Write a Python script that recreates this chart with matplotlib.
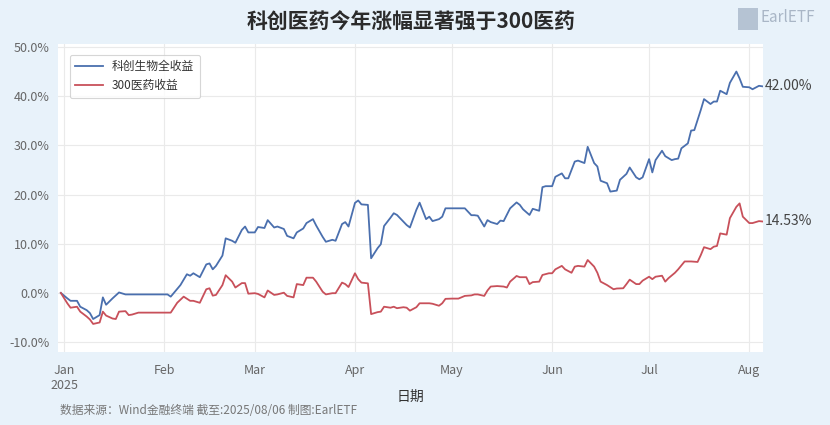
import matplotlib
matplotlib.use("Agg")
import matplotlib.pyplot as plt
import pandas as pd

plt.rcParams['font.family'] = ['Noto Sans CJK SC', 'DejaVu Sans']
plt.rcParams['axes.unicode_minus'] = False

title = "科创医药今年涨幅显著强于300医药"
name_kc = "科创生物全收益"
name_300 = "300医药收益"
footer = "数据来源：Wind金融终端 截至:2025/08/06 制图:EarlETF"

# 科创生物全收益 (%)
dates_kc = [
    "2024-12-31", "2025-01-02", "2025-01-03", "2025-01-05", "2025-01-06", "2025-01-08",
    "2025-01-09", "2025-01-10", "2025-01-12", "2025-01-13", "2025-01-14", "2025-01-16",
    "2025-01-18", "2025-01-20", "2025-02-02", "2025-02-03", "2025-02-06", "2025-02-08",
    "2025-02-09", "2025-02-10", "2025-02-12", "2025-02-14", "2025-02-15", "2025-02-16",
    "2025-02-17", "2025-02-19", "2025-02-20", "2025-02-22", "2025-02-23", "2025-02-25",
    "2025-02-26", "2025-02-27", "2025-03-01", "2025-03-02", "2025-03-04", "2025-03-05",
    "2025-03-07", "2025-03-08", "2025-03-10", "2025-03-11", "2025-03-13", "2025-03-14",
    "2025-03-16", "2025-03-17", "2025-03-19", "2025-03-20", "2025-03-22", "2025-03-23",
    "2025-03-25", "2025-03-26", "2025-03-28", "2025-03-29", "2025-03-30", "2025-04-01",
    "2025-04-02", "2025-04-03", "2025-04-05", "2025-04-06", "2025-04-08", "2025-04-09",
    "2025-04-10", "2025-04-12", "2025-04-13", "2025-04-14", "2025-04-16", "2025-04-17",
    "2025-04-18", "2025-04-20", "2025-04-21", "2025-04-23", "2025-04-24", "2025-04-25",
    "2025-04-27", "2025-04-28", "2025-04-29", "2025-05-05", "2025-05-07", "2025-05-08",
    "2025-05-09", "2025-05-11", "2025-05-12", "2025-05-13", "2025-05-15", "2025-05-16",
    "2025-05-17", "2025-05-19", "2025-05-21", "2025-05-22", "2025-05-23", "2025-05-25",
    "2025-05-26", "2025-05-28", "2025-05-29", "2025-05-30", "2025-06-01", "2025-06-02",
    "2025-06-04", "2025-06-05", "2025-06-06", "2025-06-08", "2025-06-09", "2025-06-11",
    "2025-06-12", "2025-06-14", "2025-06-15", "2025-06-16", "2025-06-18", "2025-06-19",
    "2025-06-21", "2025-06-22", "2025-06-24", "2025-06-25", "2025-06-27", "2025-06-28",
    "2025-06-29", "2025-07-01", "2025-07-02", "2025-07-03", "2025-07-05", "2025-07-06",
    "2025-07-08", "2025-07-09", "2025-07-10", "2025-07-11", "2025-07-13", "2025-07-14",
    "2025-07-15", "2025-07-17", "2025-07-18", "2025-07-20", "2025-07-21", "2025-07-22",
    "2025-07-23", "2025-07-25", "2025-07-26", "2025-07-28", "2025-07-29", "2025-07-30",
    "2025-08-01", "2025-08-02", "2025-08-04", "2025-08-05",
]
vals_kc = [
    0.0, -1.1, -1.6, -1.6, -2.8, -3.5,
    -4.1, -5.3, -4.5, -0.9, -2.4, -1.1,
    0.1, -0.3, -0.3, -0.75, 1.6, 3.8,
    3.5, 4.0, 3.2, 5.8, 6.0, 4.8,
    5.5, 7.6, 11.1, 10.6, 10.2, 12.8,
    13.5, 12.3, 12.3, 13.4, 13.2, 14.8,
    13.3, 13.5, 13.0, 11.6, 11.1, 12.3,
    13.1, 14.2, 15.0, 13.7, 11.4, 10.4,
    10.8, 10.6, 14.0, 14.4, 13.5, 18.3,
    18.8, 18.0, 17.9, 7.05, 9.1, 9.9,
    13.6, 15.3, 16.2, 15.85, 14.5, 13.8,
    13.3, 16.9, 18.35, 15.0, 15.5, 14.6,
    15.0, 15.5, 17.2, 17.2, 15.8, 15.8,
    15.7, 13.5, 14.8, 14.4, 14.0, 14.7,
    14.6, 17.2, 18.4, 17.9, 17.0, 15.85,
    17.1, 16.7, 21.5, 21.7, 21.7, 23.6,
    24.3, 23.3, 23.3, 26.7, 26.9, 26.4,
    29.7, 26.4, 25.7, 22.8, 22.3, 20.6,
    20.8, 23.0, 24.2, 25.5, 23.5, 23.1,
    23.5, 27.2, 24.5, 27.0, 28.9, 27.8,
    27.0, 27.2, 27.3, 29.4, 30.4, 33.0,
    33.1, 37.2, 39.4, 38.4, 38.9, 38.9,
    41.1, 40.4, 42.7, 45.0, 43.6, 41.9,
    41.8, 41.4, 42.1, 42.0,
]

# 300医药收益 (%)
dates_300 = [
    "2024-12-31", "2025-01-02", "2025-01-03", "2025-01-05", "2025-01-06", "2025-01-08",
    "2025-01-09", "2025-01-10", "2025-01-12", "2025-01-13", "2025-01-14", "2025-01-16",
    "2025-01-17", "2025-01-18", "2025-01-20", "2025-01-21", "2025-01-22", "2025-01-24",
    "2025-02-03", "2025-02-05", "2025-02-07", "2025-02-09", "2025-02-10", "2025-02-12",
    "2025-02-14", "2025-02-15", "2025-02-16", "2025-02-17", "2025-02-19", "2025-02-20",
    "2025-02-22", "2025-02-23", "2025-02-25", "2025-02-26", "2025-02-27", "2025-03-01",
    "2025-03-02", "2025-03-04", "2025-03-05", "2025-03-07", "2025-03-08", "2025-03-10",
    "2025-03-11", "2025-03-13", "2025-03-14", "2025-03-16", "2025-03-17", "2025-03-19",
    "2025-03-20", "2025-03-22", "2025-03-23", "2025-03-25", "2025-03-26", "2025-03-28",
    "2025-03-29", "2025-03-30", "2025-04-01", "2025-04-02", "2025-04-03", "2025-04-05",
    "2025-04-06", "2025-04-08", "2025-04-09", "2025-04-10", "2025-04-12", "2025-04-13",
    "2025-04-14", "2025-04-16", "2025-04-17", "2025-04-18", "2025-04-20", "2025-04-21",
    "2025-04-23", "2025-04-24", "2025-04-25", "2025-04-27", "2025-04-28", "2025-04-29",
    "2025-05-01", "2025-05-03", "2025-05-05", "2025-05-07", "2025-05-08", "2025-05-09",
    "2025-05-11", "2025-05-12", "2025-05-13", "2025-05-15", "2025-05-17", "2025-05-18",
    "2025-05-19", "2025-05-21", "2025-05-22", "2025-05-24", "2025-05-25", "2025-05-26",
    "2025-05-28", "2025-05-29", "2025-05-31", "2025-06-01", "2025-06-02", "2025-06-04",
    "2025-06-05", "2025-06-07", "2025-06-08", "2025-06-09", "2025-06-11", "2025-06-12",
    "2025-06-14", "2025-06-15", "2025-06-16", "2025-06-18", "2025-06-20", "2025-06-21",
    "2025-06-23", "2025-06-24", "2025-06-25", "2025-06-27", "2025-06-28", "2025-06-29",
    "2025-07-01", "2025-07-02", "2025-07-03", "2025-07-05", "2025-07-06", "2025-07-07",
    "2025-07-09", "2025-07-10", "2025-07-12", "2025-07-13", "2025-07-14", "2025-07-16",
    "2025-07-17", "2025-07-18", "2025-07-20", "2025-07-21", "2025-07-22", "2025-07-23",
    "2025-07-25", "2025-07-26", "2025-07-28", "2025-07-29", "2025-07-30", "2025-08-01",
    "2025-08-02", "2025-08-04", "2025-08-05",
]
vals_300 = [
    0.0, -2.1, -3.0, -2.8, -3.8, -4.8,
    -5.4, -6.3, -6.0, -3.8, -4.6, -5.2,
    -5.3, -3.8, -3.7, -4.5, -4.4, -4.0,
    -4.0, -2.0, -0.75, -1.6, -1.6, -2.0,
    0.75, 0.95, -0.55, -0.4, 1.6, 3.6,
    2.3, 1.1, 2.0, 2.0, -0.15, -0.05,
    -0.2, -0.9, 0.5, -0.4, -0.3, 0.05,
    -0.6, -0.9, 1.8, 1.6, 3.1, 3.1,
    2.3, 0.25, -0.3, -0.05, -0.05, 2.1,
    1.8, 1.2, 4.0, 2.8, 2.1, 1.95,
    -4.3, -3.9, -3.8, -2.8, -3.0, -2.8,
    -3.1, -2.9, -3.0, -3.6, -2.9, -2.1,
    -2.1, -2.1, -2.2, -2.6, -2.1, -1.2,
    -1.15, -1.15, -0.6, -0.5, -0.3, -0.3,
    -0.6, 0.5, 1.3, 1.4, 1.3, 1.1,
    2.3, 3.45, 3.2, 3.2, 1.8, 2.2,
    2.3, 3.65, 4.0, 4.0, 4.8, 5.5,
    4.8, 4.1, 5.35, 5.5, 5.35, 6.7,
    5.35, 4.1, 2.3, 1.6, 0.75, 0.9,
    0.95, 1.8, 2.7, 1.8, 1.8, 2.5,
    3.3, 2.8, 3.3, 3.5, 2.3, 3.0,
    4.1, 4.8, 6.4, 6.4, 6.4, 6.3,
    7.7, 9.3, 8.9, 9.4, 9.55, 12.1,
    11.85, 15.2, 17.5, 18.2, 15.5, 14.2,
    14.2, 14.6, 14.53,
]

month_ticks = ["2025-01-01", "2025-02-01", "2025-03-01", "2025-04-01",
               "2025-05-01", "2025-06-01", "2025-07-01", "2025-08-01"]
month_labels = ["Jan\n2025", "Feb", "Mar", "Apr", "May", "Jun", "Jul", "Aug"]
y_ticks = [-10, 0, 10, 20, 30, 40, 50]

bg = "#E8F2FA"
blue = "#4A6FAE"
red = "#C8505A"

fig = plt.figure(figsize=(8.3, 4.25), dpi=100, facecolor=bg)
ax = fig.add_axes([0.0699, 0.1718, 0.8494, 0.7247])
ax.set_facecolor("white")
for s in ax.spines.values():
    s.set_visible(False)

ax.plot(pd.to_datetime(dates_kc), vals_kc, color=blue, lw=1.3, label=name_kc)
ax.plot(pd.to_datetime(dates_300), vals_300, color=red, lw=1.3, label=name_300)

ax.set_ylim(-12.0, 50.6)
ax.set_xlim(pd.Timestamp("2024-12-30 03:00"), pd.Timestamp("2025-08-05 06:00"))

ax.set_yticks(y_ticks)
ax.set_yticklabels([f"{v:.1f}%" for v in y_ticks])
ax.set_xticks(pd.to_datetime(month_ticks))
ax.set_xticklabels(month_labels)
ax.tick_params(axis="both", length=0, labelsize=9, colors="#666666")
ax.tick_params(axis="x", pad=9)
ax.tick_params(axis="y", pad=6)
ax.grid(True, color="#EAEAEA", lw=0.8)
ax.set_axisbelow(True)

ax.set_xlabel("日期", fontsize=10, color="#333333", labelpad=-2)

for d, v in [(dates_kc[-1], vals_kc[-1]), (dates_300[-1], vals_300[-1])]:
    ax.annotate(f"{v:.2f}%", (pd.Timestamp(d), v), xytext=(2, 0),
                textcoords="offset points", ha="left", va="center",
                fontsize=10, color="#444444", annotation_clip=False)

leg = ax.legend(loc="upper left", bbox_to_anchor=(0.008, 0.985), fontsize=8.5,
                frameon=True, handlelength=2.3, borderpad=0.5, labelspacing=0.5)
leg.get_frame().set_edgecolor("#CCCCCC")
leg.get_frame().set_linewidth(0.8)
for t in leg.get_texts():
    t.set_color("#333333")

fig.text(0.495, 0.948, title, ha="center", va="center", fontsize=15,
         fontweight="heavy", color="#2B2B2B")
fig.text(0.072, 0.035, footer, ha="left", va="center", fontsize=8.5,
         color="#777777")

# logo in the top right corner
fig.patches.append(plt.Rectangle((0.889, 0.93), 0.024, 0.052, transform=fig.transFigure,
                                 facecolor="#B5C3D3", edgecolor="none"))
fig.text(0.916, 0.958, "EarlETF", ha="left", va="center", fontsize=11,
         color="#A9B6C6")

fig.savefig("out.png", dpi=100, facecolor=bg)
